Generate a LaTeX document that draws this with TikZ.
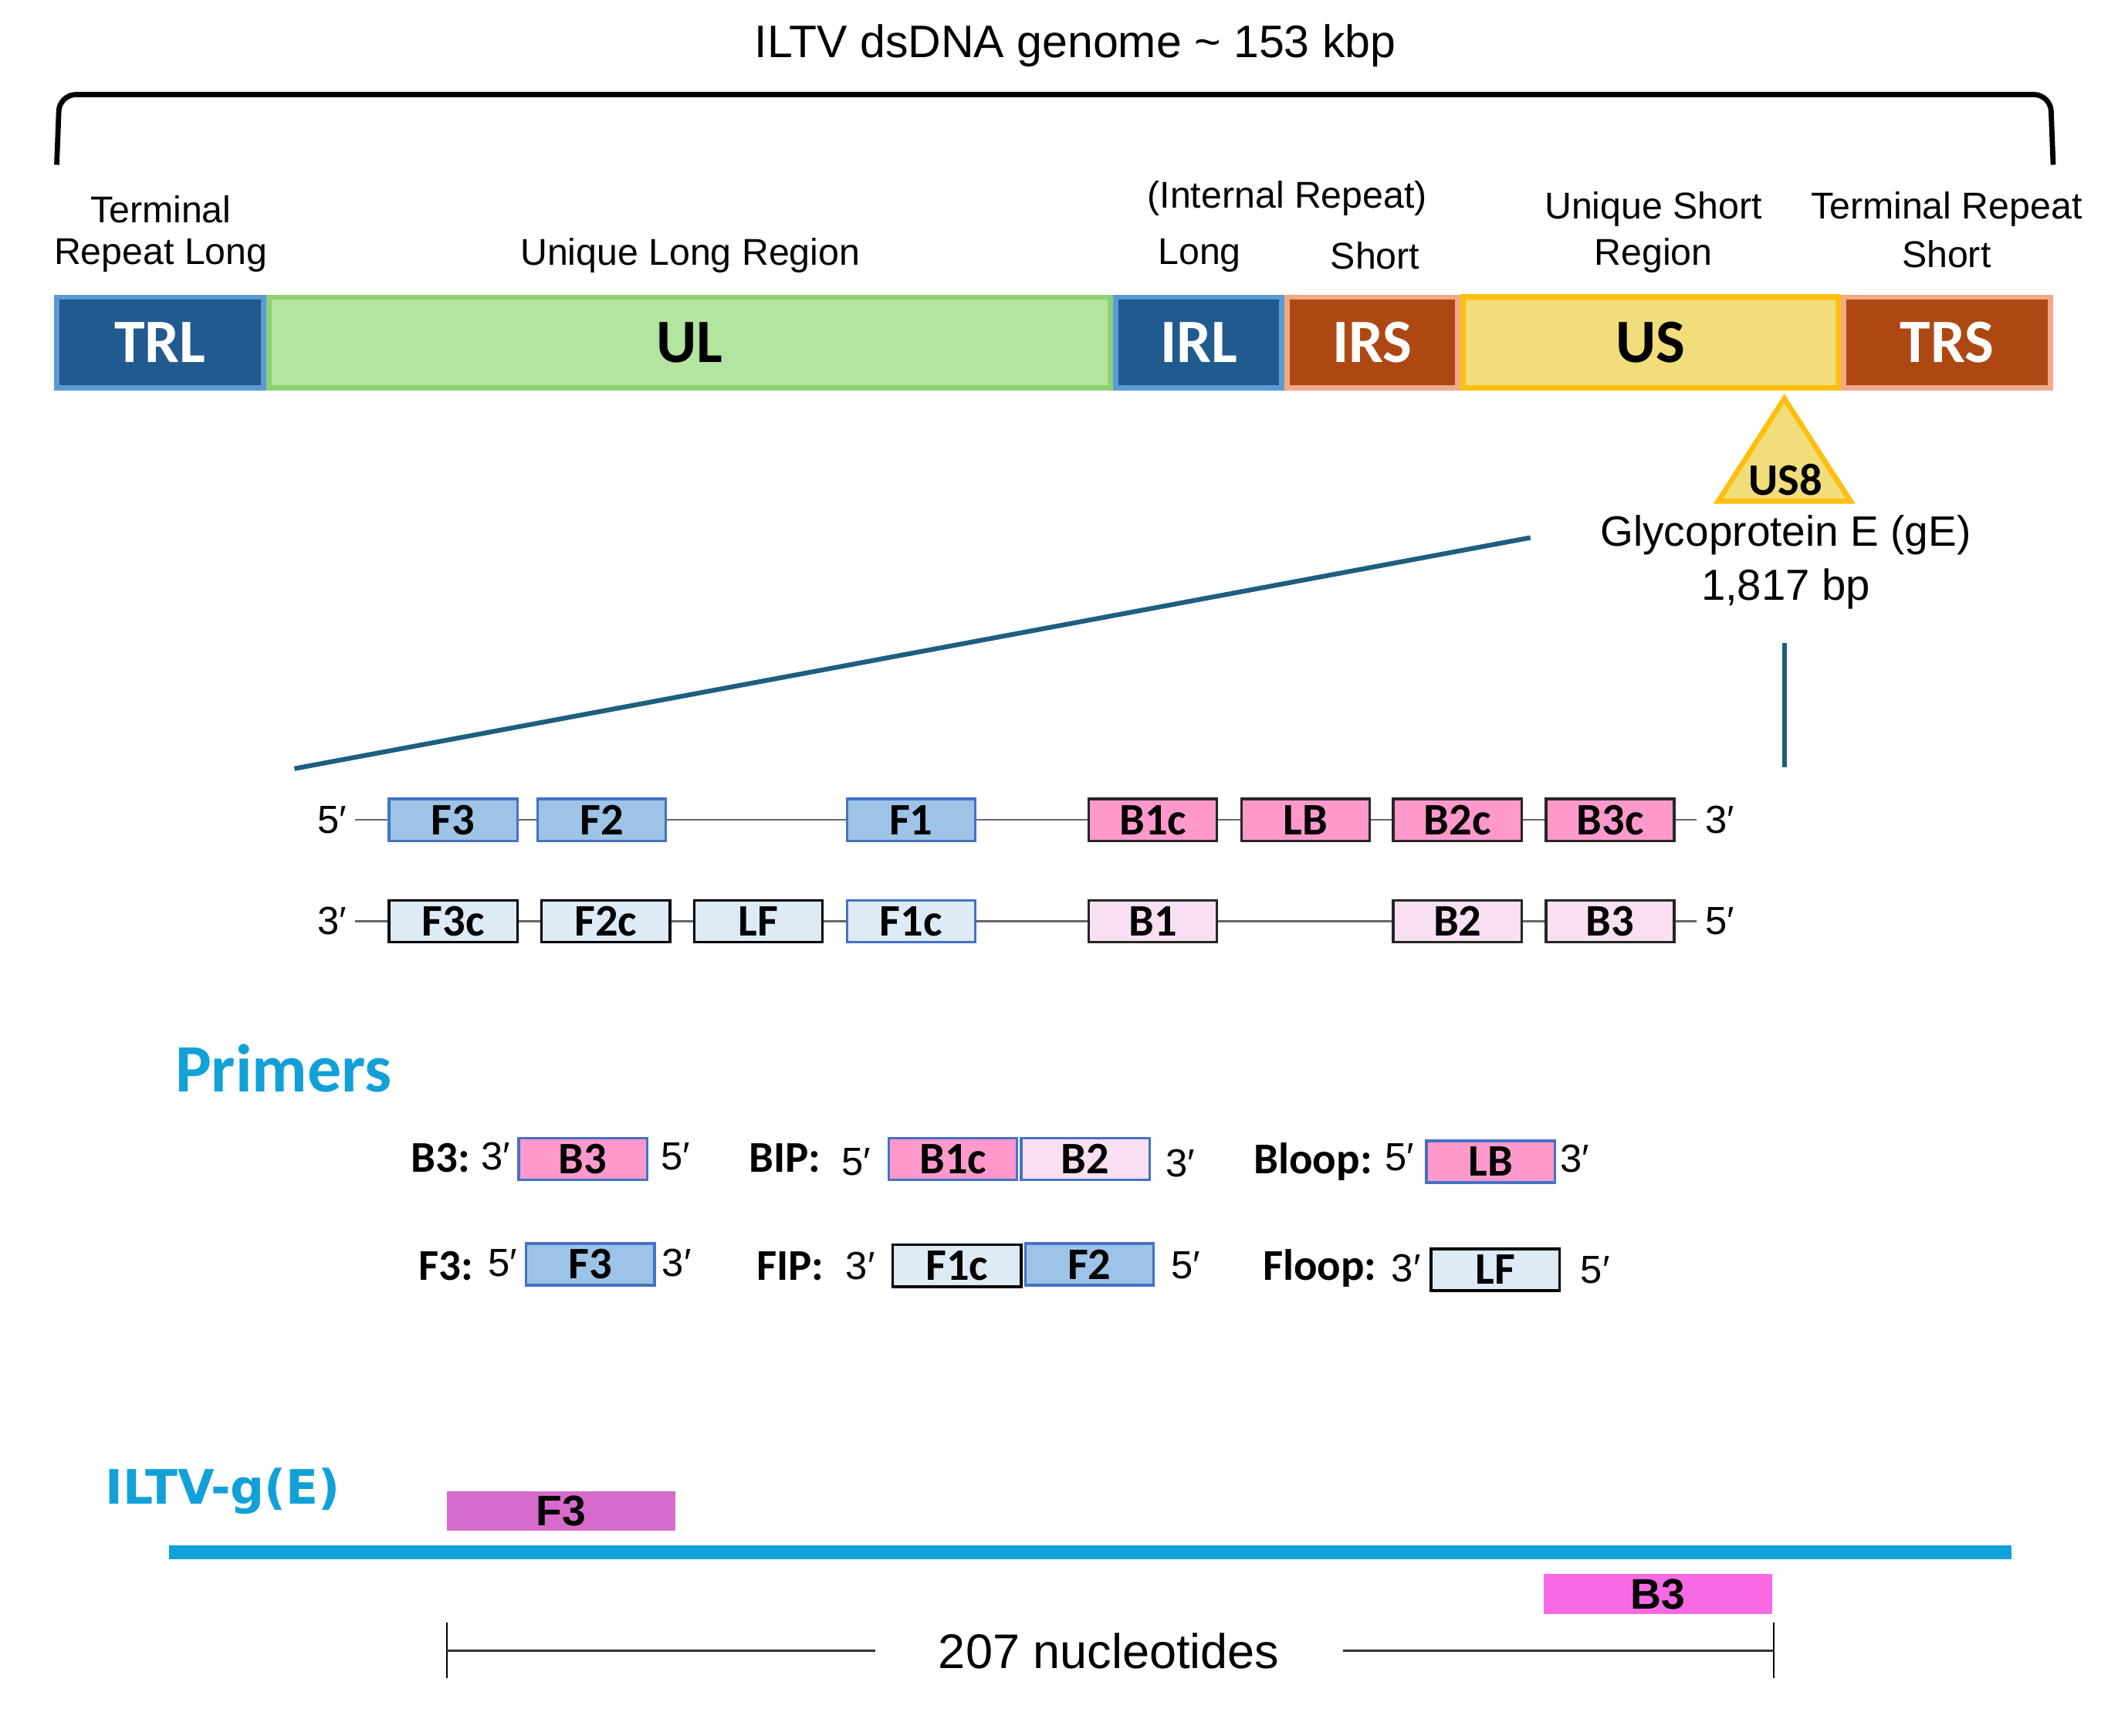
\documentclass[tikz,border=0pt]{standalone}
\usepackage{fontspec}
\setmainfont{Liberation Sans}
\newfontfamily\calfont{Carlito}
\newfontfamily\dvfont{DejaVu Sans}
\newcommand\setfs[1]{\fontsize{#1}{#1}\selectfont}
\definecolor{cdkblue}{HTML}{215A8F}
\definecolor{cltblue}{HTML}{5B9BD5}
\definecolor{cgrfill}{HTML}{B3E4A0}
\definecolor{cgrline}{HTML}{8ED174}
\definecolor{crust}{HTML}{AE4813}
\definecolor{csalmon}{HTML}{F1AA85}
\definecolor{cusfill}{HTML}{F2DD7B}
\definecolor{cgold}{HTML}{FDC010}
\definecolor{cteal}{HTML}{1D5F7F}
\definecolor{cfblue}{HTML}{9DC3E6}
\definecolor{cfline}{HTML}{4472C4}
\definecolor{clblue}{HTML}{DDEBF7}
\definecolor{cpink}{HTML}{FF99CC}
\definecolor{clpink}{HTML}{F8E0F2}
\definecolor{cpblue}{HTML}{12A0D8}
\definecolor{corchid}{HTML}{D76BCB}
\definecolor{cmag}{HTML}{F76AE4}
\definecolor{cstrand}{HTML}{666666}
\tikzset{
  region/.style={draw, line width=2.2pt, minimum height=1.34cm, inner sep=0pt,
    font=\calfont\bfseries\setfs{26}},
  dkreg/.style={region, fill=cdkblue, draw=cltblue, text=white},
  rureg/.style={region, fill=crust, draw=csalmon, text=white},
  toplbl/.style={font=\setfs{15.7}, inner sep=0pt, align=center},
  sbox/.style={draw, line width=1.1pt, minimum width=1.9cm, minimum height=0.62cm, inner sep=0pt,
    font=\calfont\bfseries\setfs{19}},
  fb/.style={sbox, fill=cfblue, draw=cfline},
  fcb/.style={sbox, fill=clblue, draw=black},
  fcbb/.style={sbox, fill=clblue, draw=cfline},
  bb/.style={sbox, fill=cpink, draw=black!85},
  bcb/.style={sbox, fill=clpink, draw=black!85},
  pbb/.style={sbox, fill=cpink, draw=cfline},
  pbcb/.style={sbox, fill=clpink, draw=cfline},
  prime/.style={font=\setfs{16.5}, inner xsep=3.5pt, inner ysep=1pt},
  plbl/.style={font=\calfont\bfseries\setfs{18.5}, inner sep=0pt},
  strand/.style={draw=cstrand, line width=0.8pt},
  zoomline/.style={draw=cteal, line width=2pt},
}
\begin{document}
\begin{tikzpicture}[x=0.02cm,y=-0.02cm]
\useasboundingbox (0,0) rectangle (1568,1284.6);

% title and bracket
\node[font=\setfs{19.2}, inner sep=0pt] (title) at (796,34) {ILTV dsDNA genome \textasciitilde{} 153 kbp};
\coordinate (b1) at (42,122);
\coordinate (b2) at (44,70);
\coordinate (b3) at (1518,70);
\coordinate (b4) at (1520,122);
\draw[line width=2.2pt, rounded corners=7pt] (b1) -- (b2) -- (b3) -- (b4);

% labels above the genome bar
\node[toplbl] (l1a) at (119,155) {Terminal};
\node[toplbl] (l1b) at (119,189) {Repeat Long};
\node[toplbl] (l2) at (511,189) {Unique Long Region};
\node[toplbl] (l3) at (953,147) {(Internal Repeat)};
\node[toplbl] (l4) at (888,189) {Long};
\node[toplbl] (l5) at (1018,189) {Short};
\node[toplbl] (l6a) at (1224,155) {Unique Short};
\node[toplbl] (l6b) at (1224,189) {Region};
\node[toplbl] (l7a) at (1441,155) {Terminal Repeat};
\node[toplbl] (l7b) at (1441,188) {Short};

% genome bar
\node[dkreg, minimum width=3.06cm] (trl) at (118.5,253.5) {TRL};
\node[region, fill=cgrfill, draw=cgrline, minimum width=12.46cm] (ul) at (510.5,253.5) {UL};
\node[dkreg, minimum width=2.46cm] (irl) at (887.5,253.5) {IRL};
\node[rureg, minimum width=2.52cm] (irs) at (1016,253.5) {IRS};
\node[rureg, minimum width=3.06cm] (trs) at (1441.5,253.5) {TRS};
\node[region, fill=cusfill, draw=cgold, line width=2.4pt, minimum width=5.56cm] (us) at (1222,253.5) {US};

% US8 triangle
\coordinate (t1) at (1321,295);
\coordinate (t2) at (1370,371);
\coordinate (t3) at (1272,371);
\draw[fill=cusfill, draw=cgold, line width=2.2pt, line join=miter] (t1) -- (t2) -- (t3) -- cycle;
\node[font=\calfont\bfseries\setfs{19}, inner sep=0pt] (us8) at (1322,355) {US8};
\node[font=\setfs{17.9}, inner sep=0pt] (ge) at (1322,396) {Glycoprotein E (gE)};
\node[font=\setfs{18.3}, inner sep=0pt] (gebp) at (1322,436) {1,817 bp};

% zoom lines
\coordinate (z1) at (1133,398);
\coordinate (z2) at (218,569);
\coordinate (v1) at (1321,476);
\coordinate (v2) at (1321,568);
\draw[zoomline] (z1) -- (z2);
\draw[zoomline] (v1) -- (v2);

% strand 1
\node[prime, anchor=east] (p5a) at (263,607) {5′};
\node[fb] (rF3) at (335.5,607) {F3};
\node[fb] (rF2) at (445.5,607) {F2};
\node[fb] (rF1) at (674.5,607) {F1};
\node[bb] (rB1c) at (853.5,607) {B1c};
\node[bb] (rLB) at (966.5,607) {LB};
\node[bb] (rB2c) at (1079,607) {B2c};
\node[bb] (rB3c) at (1192,607) {B3c};
\node[prime, anchor=west] (p3a) at (1256,607) {3′};
\draw[strand] (p5a) -- (rF3) -- (rF2) -- (rF1) -- (rB1c) -- (rLB) -- (rB2c) -- (rB3c) -- (p3a);

% strand 2
\node[prime, anchor=east] (p3b) at (263,682) {3′};
\node[fcb] (rF3c) at (335.5,682) {F3c};
\node[fcb] (rF2c) at (448.5,682) {F2c};
\node[fcb] (rLF) at (561.5,682) {LF};
\node[fcbb] (rF1c) at (674.5,682) {F1c};
\node[bcb] (rB1) at (853.5,682) {B1};
\node[bcb] (rB2) at (1079,682) {B2};
\node[bcb] (rB3) at (1192,682) {B3};
\node[prime, anchor=west] (p5b) at (1256,682) {5′};
\draw[strand] (p3b) -- (rF3c) -- (rF2c) -- (rLF) -- (rF1c) -- (rB1) -- (rB2) -- (rB3) -- (p5b);

% primers
\node[font=\calfont\bfseries\setfs{28.6}, text=cpblue, inner sep=0pt] (primers) at (210,791) {Primers};

\node[plbl] (lB3) at (326,857) {B3:};
\node[prime, inner sep=0pt] (a1) at (367,856) {3′};
\node[pbb] (pB3) at (431.5,858) {B3};
\node[prime, inner sep=0pt] (a2) at (500,856) {5′};
\node[plbl] (lBIP) at (581,857) {BIP:};
\node[prime, inner sep=0pt] (a3) at (634,860) {5′};
\node[pbb] (pB1c) at (705.5,858) {B1c};
\node[pbcb] (pB2) at (803.5,858) {B2};
\node[prime, inner sep=0pt] (a4) at (874,861) {3′};
\node[plbl] (lBloop) at (972,860) {Bloop:};
\node[prime, inner sep=0pt] (a5) at (1036,857) {5′};
\node[pbb] (pLB) at (1103.5,860) {LB};
\node[prime, inner sep=0pt] (a6) at (1166,858) {3′};

\node[plbl] (lF3) at (330,937) {F3:};
\node[prime, inner sep=0pt] (c1) at (372,935) {5′};
\node[fb] (pF3) at (437,936) {F3};
\node[prime, inner sep=0pt] (c2) at (501,935) {3′};
\node[plbl] (lFIP) at (585,937) {FIP:};
\node[prime, inner sep=0pt] (c3) at (637,937) {3′};
\node[fcb] (pF1c) at (708.5,937) {F1c};
\node[fb] (pF2) at (806.5,936) {F2};
\node[prime, inner sep=0pt] (c4) at (878,937) {5′};
\node[plbl] (lFloop) at (977,939) {Floop:};
\node[prime, inner sep=0pt] (c5) at (1041,939) {3′};
\node[fcb] (pLF) at (1107,940) {LF};
\node[prime, inner sep=0pt] (c6) at (1181,940) {5′};

% ILTV-g(E) amplicon
\node[font=\dvfont\bfseries\setfs{20}, text=cpblue, inner sep=0pt] (iltv) at (165,1104) {ILTV-g(E)};
\node[fill=cpblue, minimum width=27.28cm, minimum height=0.2cm, inner sep=0pt] (bar) at (807,1149) {};
\node[fill=corchid, minimum width=3.38cm, minimum height=0.58cm, inner sep=0pt,
  font=\bfseries\setfs{18}] (gF3) at (415.5,1118.5) {F3};
\node[fill=cmag, minimum width=3.38cm, minimum height=0.6cm, inner sep=0pt,
  font=\bfseries\setfs{18}] (gB3) at (1227.5,1180) {B3};

% dimension
\coordinate (d1t) at (331,1201);
\coordinate (d1b) at (331,1242);
\coordinate (d2t) at (1313,1201);
\coordinate (d2b) at (1313,1242);
\coordinate (d1m) at (331,1222);
\coordinate (d2m) at (1313,1222);
\node[font=\setfs{20.5}, inner xsep=26.5pt, inner ysep=0pt] (nuc) at (821,1222) {207 nucleotides};
\draw[line width=0.6pt] (d1t) -- (d1b);
\draw[line width=0.6pt] (d2t) -- (d2b);
\draw[line width=0.9pt, draw=black!80] (d1m) -- (nuc);
\draw[line width=0.9pt, draw=black!80] (nuc) -- (d2m);
\end{tikzpicture}
\end{document}
